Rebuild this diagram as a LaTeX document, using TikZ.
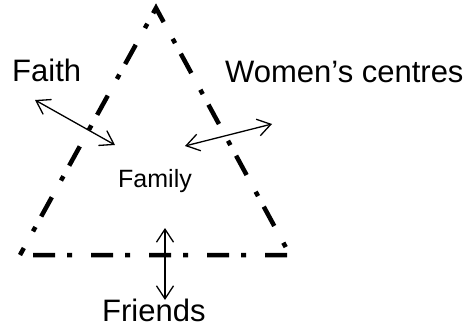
\documentclass[tikz,border=0pt]{standalone}
\usepackage{fontspec}
\setmainfont{Liberation Sans}
\usetikzlibrary{arrows.meta}

\begin{document}
\begin{tikzpicture}[x=1pt, y=-1pt,
    edge/.style={line width=4.5pt, dash pattern=on 22pt off 12pt on 5pt off 19pt, dash phase=45pt},
    link/.style={line width=1.3pt, {Straight Barb[length=13pt,width=17pt]}-{Straight Barb[length=13pt,width=17pt]}},
    big/.style={inner sep=0pt, anchor=base west, font=\fontsize{31}{36}\selectfont},
    small/.style={inner sep=0pt, anchor=base west, font=\fontsize{25}{30}\selectfont}]
    \useasboundingbox (0,0) rectangle (472,329);

    % Triangle
    \draw[edge] (20,255) -- (290,255) -- (156,8) -- cycle;

    % Labels
    \node[big] (faith) at (12,82) {Faith};
    \node[big] (women) at (225,83) {Women’s centres};
    \node[small] (family) at (118,187) {Family};
    \node[big] (friends) at (102,321) {Friends};

    % Arrow ends
    \coordinate (faithout) at (35,100);
    \coordinate (faithin) at (115,145);
    \coordinate (womenin) at (185,146);
    \coordinate (womenout) at (272,124);
    \coordinate (friendsin) at (165,228);
    \coordinate (friendsout) at (165,300);

    % Arrows
    \draw[link] (faithout) -- (faithin);
    \draw[link] (womenin) -- (womenout);
    \draw[link] (friendsin) -- (friendsout);
\end{tikzpicture}
\end{document}
